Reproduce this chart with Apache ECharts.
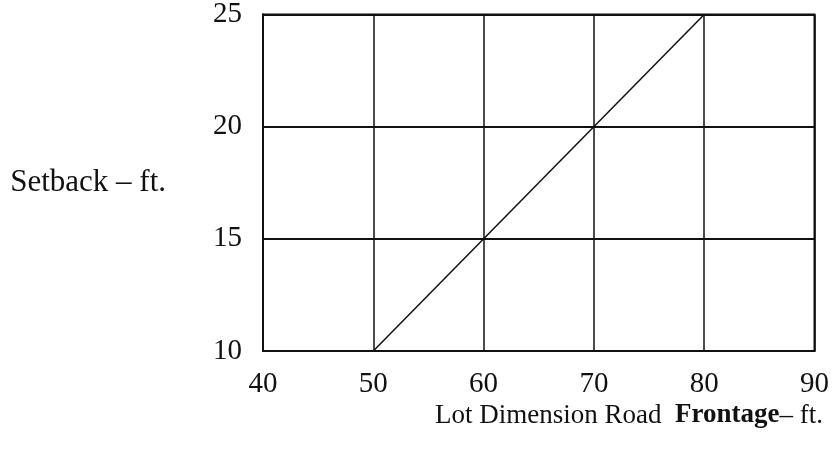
<!DOCTYPE html>
<html>
<head>
<meta charset="utf-8">
<script src="https://cdn.jsdelivr.net/npm/echarts@6/dist/echarts.min.js"></script>
<style>
  html, body { margin: 0; padding: 0; background: #fff; }
  #chart { width: 832px; height: 452px; }
</style>
</head>
<body>
<div id="chart"></div>
<script>
// frontage (ft) vs setback (ft)
const frontage = [50, 80];
const setback = [10, 25];
const xTicks = [40, 50, 60, 70, 80, 90];
const yTicks = [10, 15, 20, 25];

const serif = '"Liberation Serif", "DejaVu Serif", serif';

const chart = echarts.init(document.getElementById('chart'));

chart.setOption({
  animation: false,
  backgroundColor: '#fff',
  title: {
    text: 'Lot Dimension Road  {b|Frontage}– ft.',
    right: 4,
    top: 397,
    textStyle: {
      fontFamily: serif,
      fontSize: 27,
      fontWeight: 'normal',
      color: '#111',
      rich: {
        b: { fontFamily: serif, fontSize: 27, fontWeight: 'bold', color: '#111' }
      }
    }
  },
  grid: {
    left: 263, right: 15, top: 13, bottom: 101,
    show: true, borderColor: '#111', borderWidth: 2
  },
  xAxis: {
    type: 'value',
    min: xTicks[0],
    max: xTicks[xTicks.length - 1],
    interval: 10,
    axisLine: { show: true, lineStyle: { color: '#111', width: 2 } },
    axisTick: { show: false },
    axisLabel: { color: '#111', fontFamily: serif, fontSize: 29, margin: 19 },
    splitLine: { show: true, lineStyle: { color: '#111', width: 1.5 } }
  },
  yAxis: {
    type: 'value',
    min: yTicks[0],
    max: yTicks[yTicks.length - 1],
    interval: 5,
    name: 'Setback – ft.',
    nameLocation: 'middle',
    nameRotate: 0,
    nameGap: 97,
    nameTextStyle: { color: '#111', fontFamily: serif, fontSize: 31, align: 'right' },
    axisLine: { show: true, lineStyle: { color: '#111', width: 2 } },
    axisTick: { show: false },
    axisLabel: { color: '#111', fontFamily: serif, fontSize: 29, margin: 21 },
    splitLine: { show: true, lineStyle: { color: '#111', width: 2 } }
  },
  series: [{
    type: 'line',
    data: frontage.map((f, i) => [f, setback[i]]),
    symbol: 'none',
    lineStyle: { color: '#111', width: 1.5 }
  }]
});
</script>
</body>
</html>
